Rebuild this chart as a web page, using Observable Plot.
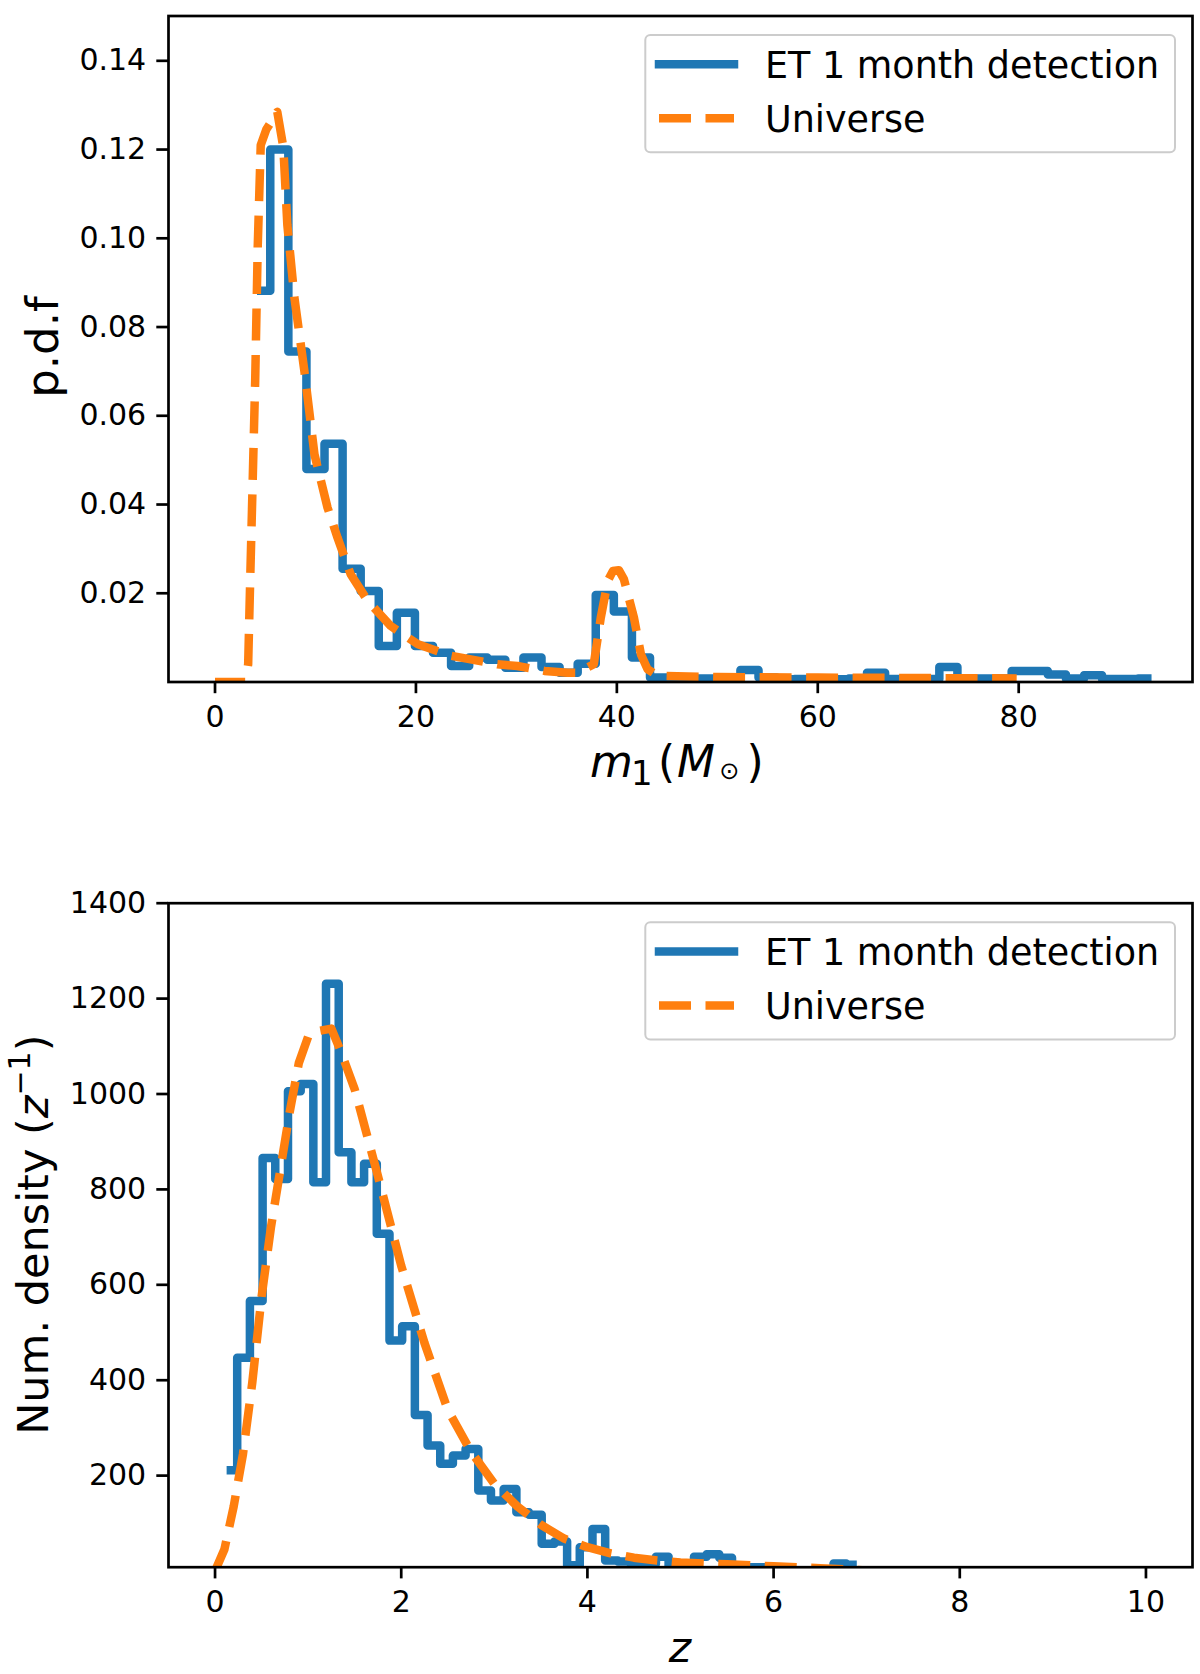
<!DOCTYPE html>
<html><head><meta charset="utf-8">
<script src="https://cdn.jsdelivr.net/npm/d3@7"></script>
<script src="https://cdn.jsdelivr.net/npm/@observablehq/plot@0.6"></script>
<style>
html,body{margin:0;padding:0;background:#fff;overflow:hidden;}
#chart{width:1200px;height:1674px;}
#chart svg{display:block;}
</style></head><body><div id="chart"></div>
<script>
const blue = "#1f77b4", orange = "#ff7f0e";
const seriesNames = ["ET 1 month detection", "Universe"];

// ---- Top panel: primary mass m1 ----
const m1Centers = [4.6, 6.4, 8.2, 10.0, 11.8, 13.6, 15.4, 17.2, 19.0, 20.8, 22.6, 24.4, 26.2, 28.0, 29.8, 31.6, 33.4, 35.2, 37.0, 38.8, 40.6, 42.4, 44.2, 46.0, 47.8, 49.6, 51.4, 53.2, 55.0, 56.8, 58.6, 60.4, 62.2, 64.0, 65.8, 67.6, 69.4, 71.2, 73.0, 74.8, 76.6, 78.4, 80.2, 82.0, 83.8, 85.6, 87.4, 89.2, 91.0, 92.8];
const m1Detected = [0.0882, 0.120, 0.0745, 0.048, 0.0537, 0.0255, 0.0205, 0.0081, 0.0156, 0.0081, 0.0066, 0.0036, 0.0055, 0.0050, 0.0032, 0.0055, 0.0034, 0.0021, 0.0041, 0.0196, 0.0159, 0.0055, 0.0010, 0.0009, 0.0008, 0.0008, 0.0009, 0.0027, 0.0010, 0.0006, 0.0007, 0.0007, 0.0006, 0.0008, 0.0021, 0.0007, 0.0007, 0.0007, 0.0034, 0.0008, 0.0008, 0.0008, 0.0025, 0.0025, 0.0017, 0.0008, 0.0015, 0.0007, 0.0007, 0.0008];
const m1Grid = [0, 3.0, 3.3, 3.5, 3.75, 4.0, 4.25, 4.55, 5.1, 6.2, 6.8, 7.2, 7.9, 8.9, 9.9, 11.2, 12.2, 13.5, 15.2, 17.5, 20.2, 23.5, 28.1, 30.1, 32.8, 35.1, 36.1, 37.7, 38.4, 39.1, 39.6, 40.2, 40.7, 41.7, 42.4, 43.05, 44.05, 50, 60, 70, 79.8];
const m1Universe = [0, 0, 0.004, 0.0228, 0.0453, 0.068, 0.098, 0.121, 0.1245, 0.1285, 0.1205, 0.103, 0.0867, 0.070, 0.0513, 0.0393, 0.0325, 0.0243, 0.0183, 0.0126, 0.0085, 0.0059, 0.0040, 0.0036, 0.0025, 0.0021, 0.0021, 0.0040, 0.0145, 0.0228, 0.0250, 0.0252, 0.0232, 0.0145, 0.0062, 0.0029, 0.0014, 0.0011, 0.0010, 0.0009, 0.0008];
const m1Ticks = [0, 20, 40, 60, 80];
const pdfTicks = [0.02, 0.04, 0.06, 0.08, 0.10, 0.12, 0.14];

// ---- Bottom panel: redshift z ----
const zCenters = [0.170, 0.306, 0.443, 0.579, 0.715, 0.852, 0.988, 1.124, 1.260, 1.397, 1.533, 1.669, 1.806, 1.942, 2.078, 2.215, 2.351, 2.487, 2.623, 2.760, 2.896, 3.032, 3.169, 3.305, 3.441, 3.577, 3.714, 3.850, 3.986, 4.123, 4.259, 4.395, 4.531, 4.668, 4.804, 4.940, 5.077, 5.213, 5.349, 5.485, 5.622, 5.758, 5.894, 6.031, 6.167, 6.303, 6.439, 6.576, 6.712, 6.848];
const zDetected = [211, 447, 566, 866, 822, 1006, 1021, 815, 1231, 878, 815, 854, 707, 483, 513, 327, 263, 225, 242, 256, 169, 148, 172, 123, 118, 57, 62, 12, 50, 88, 22, 20, 15, 15, 30, 5, 15, 30, 35, 28, 8, 8, 8, 1, 1, 1, 1, 1, 16, 13];
const zGrid = [0, 0.1, 0.2, 0.3, 0.4, 0.5, 0.6, 0.7, 0.8, 0.9, 1.0, 1.05, 1.25, 1.35, 1.5, 1.75, 2.0, 2.25, 2.5, 2.75, 3.0, 3.25, 3.5, 3.75, 4.0, 4.25, 4.5, 4.75, 5.0, 5.5, 6.0, 6.5, 7.0, 8.0, 9.0, 10.0];
const zUniverse = [0, 45, 135, 245, 395, 575, 720, 840, 960, 1065, 1120, 1130, 1137, 1090, 1010, 828, 640, 478, 338, 250, 183, 135, 97, 68, 50, 37, 28, 22, 18, 14, 10, 6, 1, 0.3, 0.1, 0];
const zTicks = [0, 2, 4, 6, 8, 10];
const densTicks = [200, 400, 600, 800, 1000, 1200, 1400];

const FONT = "DejaVu Sans";
const TICK = {tickSize: 11.7, fontSize: 30, strokeWidth: 2.7, label: null};
const DASH = "32,14.5";

function panel({height, marginTop, marginBottom, xDomain, yDomain, det, uni, xTicks, yTicks, yFormat}) {
  return Plot.plot({
    width: 1200, height,
    marginLeft: 168, marginRight: 8, marginTop, marginBottom,
    x: {domain: xDomain},
    y: {domain: yDomain},
    style: {fontFamily: FONT, background: "white", overflow: "visible", color: "black"},
    marks: [
      Plot.line(det, {x: "x", y: "y", curve: "step", stroke: blue, strokeWidth: 8.5,
        strokeLinejoin: "round", strokeLinecap: "square", clip: true}),
      Plot.line(uni, {x: "x", y: "y", stroke: orange, strokeWidth: 8.5, strokeDasharray: DASH,
        strokeLinejoin: "round", strokeLinecap: "butt", clip: true}),
      Plot.frame({stroke: "black", strokeWidth: 2.7}),
      Plot.axisX({...TICK, ticks: xTicks, tickPadding: 11.5, tickFormat: d3.format("d")}),
      Plot.axisY({...TICK, ticks: yTicks, tickPadding: 10.6, tickFormat: yFormat})
    ]
  });
}

function addLegend(svg, top) {
  const g = d3.select(svg).append("g");
  g.append("rect").attr("x", 645.3).attr("y", top).attr("width", 529.7).attr("height", 117.3)
    .attr("rx", 5).attr("fill", "white").attr("fill-opacity", 0.8)
    .attr("stroke", "#cccccc").attr("stroke-width", 2);
  g.append("line").attr("x1", 659).attr("x2", 734).attr("y1", top + 29.3).attr("y2", top + 29.3)
    .attr("stroke", blue).attr("stroke-width", 8.5).attr("stroke-linecap", "square");
  g.append("line").attr("x1", 659).attr("x2", 734).attr("y1", top + 83.3).attr("y2", top + 83.3)
    .attr("stroke", orange).attr("stroke-width", 8.5).attr("stroke-dasharray", DASH);
  const t = g.append("g").attr("font-family", FONT).attr("font-size", 36.5).attr("fill", "black")
    .attr("text-anchor", "start");
  t.append("text").attr("x", 765).attr("y", top + 43).attr("text-anchor", "start").text(seriesNames[0]);
  t.append("text").attr("x", 765).attr("y", top + 96.7).attr("text-anchor", "start").text(seriesNames[1]);
}

const chart = document.getElementById("chart");

// Top
const svgTop = panel({
  height: 830, marginTop: 15.5, marginBottom: 148.5,
  xDomain: [-4.63, 97.3], yDomain: [0, 0.1501],
  det: m1Centers.map((x, i) => ({x, y: m1Detected[i]})),
  uni: m1Grid.map((x, i) => ({x, y: m1Universe[i]})),
  xTicks: m1Ticks, yTicks: pdfTicks, yFormat: d3.format(".2f")
});
chart.appendChild(svgTop);
addLegend(svgTop, 35);
{
  const s = d3.select(svgTop);
  s.append("text").attr("transform", "translate(57.5,347) rotate(-90)")
    .attr("text-anchor", "middle").attr("font-family", FONT).attr("font-size", 45)
    .attr("fill", "black").text("p.d.f");
  const xl = s.append("text").attr("font-family", FONT).attr("fill", "black").attr("text-anchor", "start");
  xl.append("tspan").attr("x", 590).attr("y", 776.7).attr("font-size", 44).attr("font-style", "italic").text("m");
  xl.append("tspan").attr("x", 631).attr("y", 784.5).attr("font-size", 34).text("1");
  xl.append("tspan").attr("x", 658).attr("y", 776.7).attr("font-size", 44).text("(");
  xl.append("tspan").attr("x", 677).attr("y", 776.7).attr("font-size", 44).attr("font-style", "italic").text("M");
  xl.append("tspan").attr("x", 719.3).attr("y", 779).attr("font-size", 24).text("\u2299");
  xl.append("tspan").attr("x", 746.5).attr("y", 776.7).attr("font-size", 44).text(")");
}

// Bottom
const svgBot = panel({
  height: 844, marginTop: 72.7, marginBottom: 107.3,
  xDomain: [-0.5, 10.5], yDomain: [8, 1400],
  det: zCenters.map((x, i) => ({x, y: zDetected[i]})),
  uni: zGrid.map((x, i) => ({x, y: zUniverse[i]})),
  xTicks: zTicks, yTicks: densTicks, yFormat: d3.format("d")
});
chart.appendChild(svgBot);
addLegend(svgBot, 92.2);
{
  const s = d3.select(svgBot);
  const yl = s.append("text").attr("transform", "translate(47.7,404.7) rotate(-90)")
    .attr("text-anchor", "middle").attr("font-family", FONT).attr("font-size", 43).attr("fill", "black");
  yl.append("tspan").text("Num. density (");
  yl.append("tspan").attr("font-style", "italic").text("z");
  yl.append("tspan").attr("font-size", 30).attr("dy", -18).text("\u22121");
  yl.append("tspan").attr("dy", 18).text(")");
  s.append("text").attr("x", 680).attr("y", 831.7).attr("text-anchor", "middle")
    .attr("font-family", FONT).attr("font-size", 42.6).attr("font-style", "italic")
    .attr("fill", "black").text("z");
}
</script></body></html>
